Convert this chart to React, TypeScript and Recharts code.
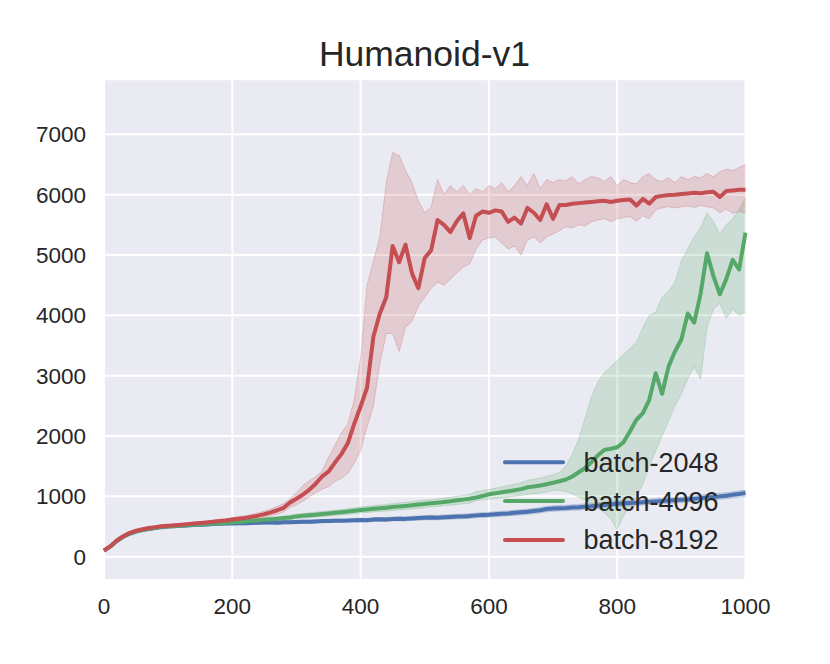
import React from "react";
import {
  ComposedChart,
  Line,
  Area,
  XAxis,
  YAxis,
  CartesianGrid,
  Legend,
} from "recharts";

// ---------- data ----------
const iterations = [
  0, 10, 20, 30, 40, 50, 60, 70, 80, 90, 100, 110, 120, 130, 140, 150, 160, 170, 180, 190, 200,
  210, 220, 230, 240, 250, 260, 270, 280, 290, 300, 310, 320, 330, 340, 350, 360, 370, 380, 390, 400,
  410, 420, 430, 440, 450, 460, 470, 480, 490, 500, 510, 520, 530, 540, 550, 560, 570, 580, 590, 600,
  610, 620, 630, 640, 650, 660, 670, 680, 690, 700, 710, 720, 730, 740, 750, 760, 770, 780, 790, 800,
  810, 820, 830, 840, 850, 860, 870, 880, 890, 900, 910, 920, 930, 940, 950, 960, 970, 980, 990, 1000,
];

const blueMean = [
  100, 170, 260, 330, 380, 415, 440, 460, 475, 490, 500,
  505, 512, 518, 525, 530, 535, 540, 545, 550, 552,
  555, 553, 560, 562, 565, 567, 564, 570, 572, 575,
  580, 578, 585, 590, 592, 595, 598, 600, 605, 610,
  606, 615, 620, 617, 625, 630, 627, 635, 640, 645,
  650, 646, 655, 660, 665, 668, 674, 685, 690, 695,
  705, 712, 718, 728, 735, 744, 758, 770, 790, 798,
  804, 808, 815, 820, 830, 838, 848, 858, 870, 878,
  884, 890, 896, 904, 910, 916, 924, 930, 936, 942,
  950, 960, 970, 984, 990, 1000, 1012, 1026, 1040, 1055,
];
const blueLo = [
  90, 160, 245, 315, 365, 400, 427, 447, 462, 477, 487,
  485, 490, 495, 502, 506, 510, 516, 520, 525, 527,
  530, 528, 534, 537, 540, 541, 538, 544, 546, 549,
  553, 551, 558, 562, 564, 567, 570, 572, 576, 580,
  575, 583, 588, 584, 592, 596, 593, 600, 604, 608,
  613, 608, 617, 621, 626, 629, 634, 645, 650, 654,
  663, 670, 676, 685, 692, 700, 713, 725, 745, 752,
  758, 762, 768, 772, 782, 790, 800, 810, 822, 830,
  836, 842, 848, 856, 862, 868, 876, 882, 888, 894,
  902, 912, 920, 934, 940, 950, 960, 974, 988, 1002,
];
const blueHi = [
  110, 180, 275, 345, 395, 430, 453, 473, 488, 503, 513,
  525, 534, 541, 548, 554, 560, 564, 570, 575, 577,
  580, 578, 586, 587, 590, 593, 590, 596, 598, 601,
  607, 605, 612, 618, 620, 623, 626, 628, 634, 640,
  637, 647, 652, 650, 658, 664, 661, 670, 676, 682,
  687, 684, 693, 699, 704, 707, 714, 725, 730, 736,
  747, 754, 760, 771, 778, 788, 803, 815, 835, 844,
  850, 854, 862, 868, 878, 886, 896, 906, 918, 926,
  932, 938, 944, 952, 958, 964, 972, 978, 984, 990,
  998, 1008, 1020, 1034, 1040, 1050, 1064, 1078, 1092, 1108,
];

const greenMean = [
  100, 170, 265, 335, 385, 420, 445, 465, 480, 495, 505,
  510, 518, 524, 530, 537, 544, 550, 555, 562, 568,
  577, 585, 594, 602, 612, 620, 630, 640, 650, 668,
  678, 688, 696, 706, 716, 728, 738, 748, 762, 774,
  784, 795, 803, 812, 822, 834, 842, 852, 864, 875,
  886, 896, 908, 920, 934, 946, 960, 980, 1005, 1035,
  1050, 1068, 1085, 1100, 1120, 1150, 1165, 1180, 1200, 1225,
  1250, 1280, 1330, 1400, 1470, 1570, 1680, 1770, 1790, 1815,
  1900, 2080, 2270, 2380, 2600, 3040, 2700, 3150, 3400, 3600,
  4030, 3880, 4360, 5030, 4650, 4350, 4600, 4920, 4760, 5370,
];
const greenLo = [
  90, 158, 250, 320, 370, 405, 430, 450, 465, 480, 490,
  493, 500, 505, 511, 517, 523, 528, 532, 538, 543,
  550, 557, 565, 572, 581, 588, 597, 606, 614, 632,
  640, 648, 655, 664, 673, 684, 693, 702, 714, 725,
  734, 743, 750, 758, 766, 776, 783, 792, 802, 812,
  826, 834, 844, 854, 866, 876, 888, 930, 942, 955,
  965, 978, 990, 1000, 1015, 1035, 1045, 1055, 1070, 1100,
  1100, 1080, 1040, 990, 940, 880, 800, 730, 620, 450,
  680, 850, 1000, 1200, 1500, 1750, 2000, 2250, 2500, 2700,
  2950, 3150, 2950, 3800, 4100, 4200, 3950, 4100, 4000, 4050,
];
const greenHi = [
  110, 182, 280, 350, 400, 435, 460, 480, 495, 510, 520,
  527, 536, 543, 549, 557, 565, 572, 578, 586, 593,
  604, 613, 623, 632, 643, 652, 663, 674, 686, 708,
  716, 728, 737, 748, 759, 772, 783, 794, 810, 823,
  834, 847, 856, 866, 878, 892, 901, 912, 926, 938,
  946, 958, 972, 986, 1002, 1016, 1032, 1080, 1098, 1115,
  1135, 1158, 1180, 1200, 1225, 1265, 1285, 1305, 1330, 1360,
  1400, 1500, 1700, 1950, 2300, 2650, 2900, 3050, 3150, 3250,
  3350, 3450, 3550, 3800, 4000, 4050, 4300, 4400, 4550, 4900,
  5100, 5300, 5450, 5700, 5550, 5350, 5500, 5600, 5750, 5950,
];

const redMean = [
  100, 175, 270, 340, 395, 430, 455, 475, 490, 505, 515,
  522, 530, 540, 550, 558, 568, 578, 590, 600, 615,
  628, 642, 660, 680, 705, 735, 770, 810, 900, 960,
  1030, 1110, 1210, 1330, 1410, 1560, 1700, 1880, 2200, 2490,
  2800, 3650, 4030, 4300, 5150, 4880, 5170, 4700, 4450, 4950,
  5080, 5580, 5500, 5380, 5560, 5690, 5280, 5650, 5720, 5700,
  5740, 5720, 5550, 5620, 5520, 5780, 5700, 5580, 5840, 5600,
  5830, 5830, 5850, 5860, 5870, 5880, 5890, 5900, 5880, 5900,
  5910, 5920, 5820, 5930, 5850, 5960, 5980, 5995, 6000, 6010,
  6020, 6030, 6025, 6040, 6050, 5960, 6060, 6070, 6080, 6080,
];
const redLo = [
  90, 163, 255, 325, 380, 415, 440, 460, 475, 490, 500,
  505, 512, 520, 528, 535, 543, 552, 562, 570, 582,
  592, 604, 618, 634, 654, 678, 705, 740, 820, 860,
  920, 990, 1060, 1120, 1160, 1250, 1300, 1380, 1550, 1750,
  2150, 2500, 3200, 3700, 3700, 3400, 3800, 3900, 4150, 4300,
  4450, 4550, 4500, 4600, 4700, 4800, 4850, 5100, 5250, 5280,
  5300, 5200, 5100, 5150, 5000, 5250, 5300, 5200, 5300, 5350,
  5400, 5470, 5450, 5500, 5480, 5550, 5580, 5600, 5550, 5600,
  5620, 5640, 5560, 5650, 5600, 5750, 5780, 5800, 5780, 5800,
  5810, 5790, 5820, 5800, 5780, 5700, 5760, 5690, 5720, 5700,
];
const redHi = [
  110, 187, 285, 355, 410, 445, 470, 490, 505, 520, 530,
  540, 548, 560, 572, 582, 593, 605, 618, 630, 648,
  664, 680, 702, 726, 756, 792, 835, 880, 960, 1060,
  1180, 1260, 1330, 1420, 1650, 1850, 2050, 2200, 2600, 3300,
  4500, 4900, 5300, 6200, 6700, 6650, 6400, 6200, 5900, 5700,
  5800, 6250, 6000, 6150, 6050, 6150, 6000, 6100, 6050, 6150,
  6100, 6200, 6050, 6150, 6300, 6150, 6350, 6100, 6250, 6200,
  6250, 6230, 6300, 6180, 6250, 6300, 6280, 6220, 6300, 6150,
  6250, 6200, 6180, 6300, 6350, 6250, 6220, 6280, 6200, 6300,
  6250, 6300, 6280, 6350, 6300, 6380, 6420, 6400, 6450, 6500,
];

const seriesNames = ["batch-2048", "batch-4096", "batch-8192"];
const seriesColors = ["#4C72B0", "#55A868", "#C44E52"];
const xTicks = [0, 200, 400, 600, 800, 1000];
const yTicks = [0, 1000, 2000, 3000, 4000, 5000, 6000, 7000];
const chartTitle = "Humanoid-v1";

// ---------- table built from the arrays ----------
const rows = iterations.map((it, i) => ({
  it,
  b: blueMean[i],
  bBand: [blueLo[i], blueHi[i]],
  g: greenMean[i],
  gBand: [greenLo[i], greenHi[i]],
  r: redMean[i],
  rBand: [redLo[i], redHi[i]],
}));

const FONT = "'Liberation Sans', Arial, Helvetica, sans-serif";
const TEXT = "#262626";

const LegendBox = () => (
  <svg width={250} height={125} style={{ display: "block", overflow: "visible" }}>
    {seriesNames.map((name, i) => (
      <g key={name}>
        <line
          x1={5}
          x2={63}
          y1={27.3 + i * 38.8}
          y2={27.3 + i * 38.8}
          stroke={seriesColors[i]}
          strokeWidth={4}
          strokeLinecap="round"
        />
        <text
          x={83.5}
          y={36.7 + i * 38.8}
          fontSize={27}
          fill={TEXT}
          fontFamily={FONT}
        >
          {name}
        </text>
      </g>
    ))}
  </svg>
);

export default function App() {
  const keys = [
    ["b", "bBand"],
    ["g", "gBand"],
    ["r", "rBand"],
  ];
  return (
    <div style={{ position: "relative", width: 822, height: 656, fontFamily: FONT }}>
      <svg
        width={822}
        height={80}
        style={{ position: "absolute", left: 0, top: 0, pointerEvents: "none" }}
      >
        <text
          x={416.5}
          y={58}
          textAnchor="middle"
          fontSize={35.5}
          fill={TEXT}
          fontFamily={FONT}
        >
          {chartTitle}
        </text>
      </svg>
      <ComposedChart
        width={822}
        height={656}
        data={rows}
        margin={{ top: 71.3, right: 84.5, bottom: 0, left: 0 }}
        style={{ fontFamily: FONT }}
      >
        <CartesianGrid fill="#EAEAF2" stroke="#FFFFFF" strokeWidth={2} />
        <XAxis
          dataKey="it"
          type="number"
          domain={[0, 1000]}
          ticks={xTicks}
          height={84}
          axisLine={false}
          tickLine={false}
          tickSize={0}
          tickMargin={18}
          tick={{ fill: TEXT, fontSize: 22.5, fontFamily: FONT }}
        />
        <YAxis
          type="number"
          domain={[-386, 7912]}
          allowDataOverflow
          ticks={yTicks}
          width={96}
          axisLine={false}
          tickLine={false}
          tickSize={0}
          tickMargin={18}
          tick={{ fill: TEXT, fontSize: 22.5, fontFamily: FONT }}
        />
        {keys.map(([mean, band], i) => [
          <Area
            key={band}
            dataKey={band}
            type="linear"
            fill={seriesColors[i]}
            fillOpacity={0.2}
            stroke={seriesColors[i]}
            strokeOpacity={0.25}
            strokeWidth={1}
            dot={false}
            activeDot={false}
            isAnimationActive={false}
            legendType="none"
          />,
          <Line
            key={mean}
            dataKey={mean}
            name={seriesNames[i]}
            type="linear"
            stroke={seriesColors[i]}
            strokeWidth={4}
            strokeLinejoin="round"
            dot={false}
            activeDot={false}
            isAnimationActive={false}
          />,
        ])}
        <Legend
          layout="horizontal"
          verticalAlign="middle"
          align="center"
          content={() => <LegendBox />}
          wrapperStyle={{ left: 492, top: 427, width: 250, height: 125, margin: 0 }}
        />
      </ComposedChart>
    </div>
  );
}
